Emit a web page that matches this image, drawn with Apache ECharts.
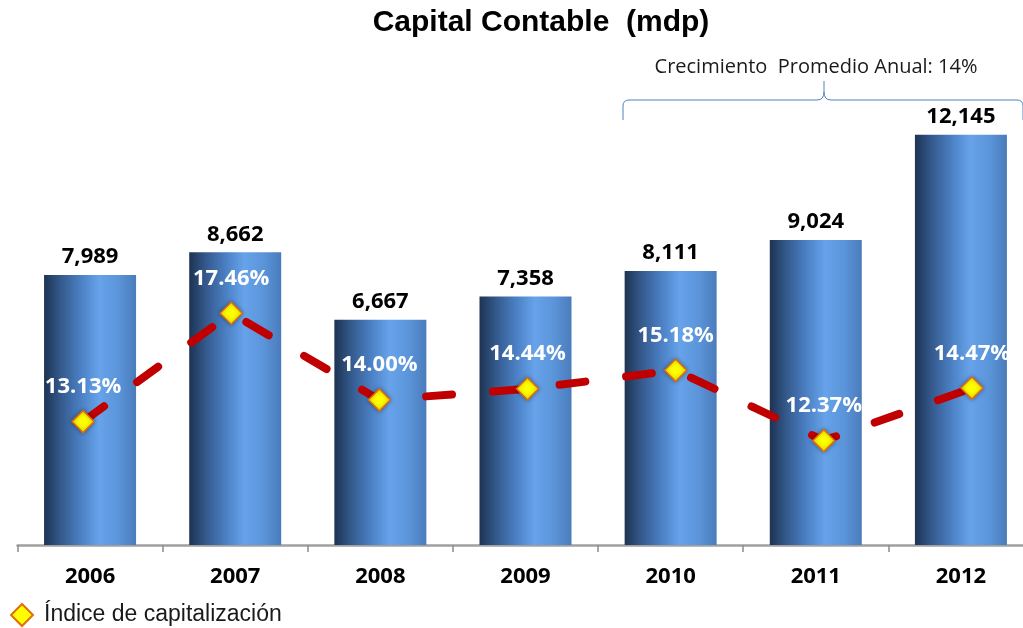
<!DOCTYPE html>
<html>
<head>
<meta charset="utf-8">
<script src="https://cdn.jsdelivr.net/npm/echarts@6/dist/echarts.min.js"></script>
<style>
html,body{margin:0;padding:0;background:#fff;}
#chart{width:1023px;height:628px;}
</style>
</head>
<body>
<div id="chart"></div>
<script>
const categories = ['2006', '2007', '2008', '2009', '2010', '2011', '2012'];
const capital = [7989, 8662, 6667, 7358, 8111, 9024, 12145];
const indice = [13.13, 17.46, 14.00, 14.44, 15.18, 12.37, 14.47];
const titleText = 'Capital Contable  (mdp)';
const noteText = 'Crecimiento  Promedio Anual: 14%';
const seriesName = 'Índice de capitalización';

const fmtComma = v => String(v).replace(/\B(?=(\d{3})+(?!\d))/g, ',');

const chart = echarts.init(document.getElementById('chart'));
const barGrad = new echarts.graphic.LinearGradient(0, 0, 1, 0, [
  { offset: 0, color: '#1d3352' },
  { offset: 0.18, color: '#34598c' },
  { offset: 0.4, color: '#4b80c4' },
  { offset: 0.6, color: '#67a3ea' },
  { offset: 0.82, color: '#5a93d8' },
  { offset: 1, color: '#4a7cbb' }
]);

const braceStyle = { stroke: '#4f81bd', lineWidth: 1, fill: null };
const ln = (x1, y1, x2, y2) => ({ type: 'line', shape: { x1, y1, x2, y2 }, style: braceStyle, silent: true });
const qc = (x1, y1, cx, cy, x2, y2) => ({ type: 'bezierCurve', shape: { x1, y1, cpx1: cx, cpy1: cy, x2, y2 }, style: braceStyle, silent: true });

chart.setOption({
  animation: false,
  backgroundColor: '#ffffff',
  grid: [
    { left: 17.5, width: 1016, top: 72, height: 473, outerBoundsMode: 'none', containLabel: false },
    { left: 9, width: 1037, top: 72, height: 473, outerBoundsMode: 'none', containLabel: false }
  ],
  xAxis: [
    {
      type: 'category', gridIndex: 0, data: categories,
      axisLine: { lineStyle: { color: '#a0a0a0', width: 2.5 } },
      axisTick: { show: true, length: 7, lineStyle: { color: '#8c8c8c', width: 1.5 } },
      axisLabel: { color: '#000', fontFamily: 'Open Sans', fontWeight: 'bold', fontSize: 22, margin: 21 }
    },
    { type: 'category', gridIndex: 1, data: categories, show: false }
  ],
  yAxis: [
    { type: 'value', gridIndex: 0, min: 0, max: 14000, show: false },
    { type: 'value', gridIndex: 1, min: 8.2, max: 27.1, show: false }
  ],
  legend: {
    data: [seriesName],
    left: 10, top: 603,
    padding: 0,
    icon: 'diamond',
    itemWidth: 22, itemHeight: 22,
    textStyle: { fontFamily: 'Liberation Sans', fontSize: 23, color: '#1a1a1a', padding: [0, 0, 0, 6] }
  },
  series: [
    {
      type: 'bar', xAxisIndex: 0, yAxisIndex: 0,
      data: capital, barWidth: 92,
      itemStyle: { color: barGrad },
      label: {
        show: true, position: 'top', distance: 7,
        color: '#000', fontFamily: 'Open Sans', fontWeight: 'bold', fontSize: 22,
        formatter: p => fmtComma(p.value)
      },
      emphasis: { disabled: true }
    },
    {
      name: seriesName,
      type: 'line', xAxisIndex: 1, yAxisIndex: 1,
      data: indice,
      symbol: 'diamond', symbolSize: 22,
      lineStyle: { color: '#c00000', width: 8, type: [26, 41], cap: 'round' },
      itemStyle: {
        color: '#ffff00', borderColor: '#e46c0a', borderWidth: 1.5,
        shadowBlur: 4, shadowColor: 'rgba(0,0,0,0.35)'
      },
      label: {
        show: true, position: 'top', distance: 12,
        color: '#fff', fontFamily: 'Open Sans', fontWeight: 'bold', fontSize: 22,
        formatter: p => p.value.toFixed(2) + '%'
      },
      z: 5,
      emphasis: { disabled: true }
    }
  ],
  graphic: [
    {
      type: 'text', x: 541, y: 23,
      style: { text: titleText, font: 'bold 30px "Liberation Sans", Arial, sans-serif', fill: '#000', textAlign: 'center', textVerticalAlign: 'middle' }
    },
    {
      type: 'text', x: 816, y: 67,
      style: { text: noteText, font: '20px "Open Sans", sans-serif', fill: '#1a1a1a', textAlign: 'center', textVerticalAlign: 'middle' }
    },
    ln(623, 120, 623, 106),
    qc(623, 106, 623, 100, 629, 100),
    ln(629, 100, 817, 100),
    qc(817, 100, 824, 100, 824, 92),
    ln(824, 92, 824, 81),
    qc(824, 92, 824, 100, 831, 100),
    ln(831, 100, 1017, 100),
    qc(1017, 100, 1023, 100, 1023, 106),
    ln(1023, 106, 1023, 120)
  ]
});
</script>
</body>
</html>
